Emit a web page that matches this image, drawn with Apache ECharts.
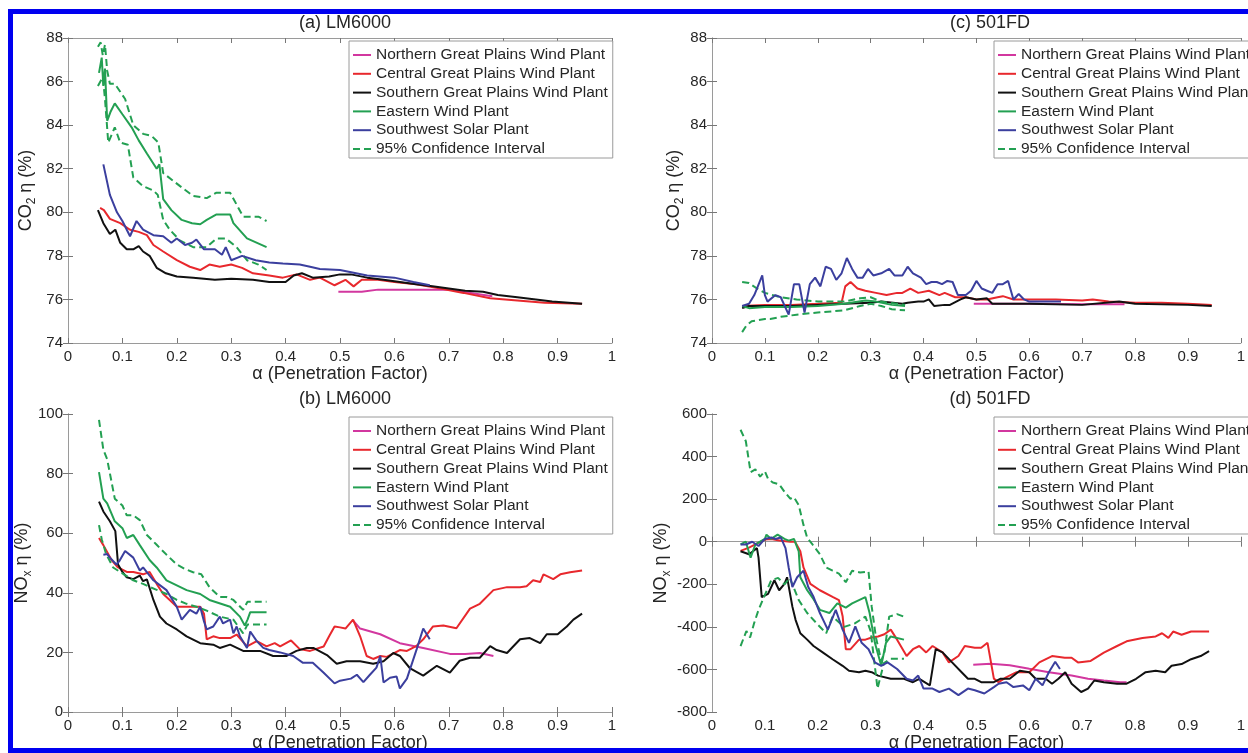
<!DOCTYPE html>
<html>
<head>
<meta charset="utf-8">
<title>CO2 / NOx efficiency vs penetration factor</title>
<script src="https://cdn.jsdelivr.net/npm/echarts@6/dist/echarts.min.js"></script>
<style>
  html, body { margin: 0; padding: 0; background: #fff; }
  #main { width: 1248px; height: 753px; }
</style>
</head>
<body>
<div id="main"></div>
<script>
// series names, in legend order
var names = ['Northern Great Plains Wind Plant', 'Central Great Plains Wind Plant',
  'Southern Great Plains Wind Plant', 'Eastern Wind Plant', 'Southwest Solar Plant',
  '95% Confidence Interval'];
var xTicks = [0, 1, 0.1];

// (a) LM6000, CO2 efficiency
var aNorthern = [[0.497,76.35],[0.54,76.35],[0.57,76.45],[0.61,76.45],[0.66,76.45],[0.7,76.45],[0.74,76.3],[0.78,76.15]];
var aCentral = [[0.059,80.2],[0.066,80.1],[0.077,79.7],[0.096,79.5],[0.114,79.2],[0.13,79.1],[0.145,78.95],[0.157,78.5],[0.175,78.2],[0.2,77.8],[0.224,77.5],[0.243,77.35],[0.26,77.6],[0.279,77.5],[0.3,77.6],[0.32,77.45],[0.34,77.2],[0.37,77.1],[0.395,77.0],[0.42,77.15],[0.445,76.9],[0.463,77.0],[0.49,76.65],[0.51,76.9],[0.525,76.6],[0.54,76.9],[0.57,76.9],[0.6,76.8],[0.64,76.7],[0.685,76.5],[0.727,76.3],[0.776,76.05],[0.826,75.95],[0.876,75.85],[0.945,75.8]];
var aSouthern = [[0.055,80.1],[0.065,79.5],[0.077,79.0],[0.087,79.2],[0.096,78.6],[0.108,78.3],[0.12,78.3],[0.13,78.45],[0.138,78.2],[0.15,78.0],[0.163,77.45],[0.18,77.2],[0.2,77.05],[0.23,77.0],[0.27,76.9],[0.3,76.95],[0.34,76.9],[0.37,76.8],[0.4,76.8],[0.415,77.1],[0.43,77.2],[0.45,77.0],[0.48,77.05],[0.5,77.15],[0.52,77.15],[0.55,77.0],[0.58,76.9],[0.61,76.8],[0.64,76.7],[0.67,76.6],[0.7,76.5],[0.73,76.4],[0.763,76.35],[0.79,76.2],[0.826,76.1],[0.86,76.0],[0.89,75.9],[0.945,75.8]];
var aEastern = [[0.057,86.4],[0.062,87.1],[0.065,85.8],[0.068,86.6],[0.072,84.2],[0.078,84.6],[0.086,85.0],[0.1,84.5],[0.117,83.9],[0.13,83.3],[0.145,82.7],[0.163,82.0],[0.168,82.2],[0.175,80.6],[0.19,80.1],[0.209,79.65],[0.228,79.5],[0.243,79.45],[0.255,79.65],[0.273,79.9],[0.298,79.9],[0.304,79.5],[0.329,78.8],[0.365,78.4]];
var aSolar = [[0.065,82.2],[0.077,80.8],[0.09,80.0],[0.1,79.6],[0.114,78.9],[0.126,79.6],[0.138,79.2],[0.157,78.95],[0.175,78.9],[0.19,78.6],[0.2,78.8],[0.215,78.5],[0.228,78.6],[0.236,78.75],[0.25,78.3],[0.27,78.3],[0.283,78.05],[0.29,78.4],[0.3,77.8],[0.32,78.0],[0.345,77.8],[0.37,77.7],[0.395,77.65],[0.426,77.6],[0.445,77.5],[0.463,77.4],[0.5,77.35],[0.55,77.1],[0.6,77.0],[0.635,76.8],[0.665,76.65]];
var aCiUpper = [[0.055,87.6],[0.06,87.8],[0.064,87.2],[0.068,87.7],[0.072,86.5],[0.077,85.9],[0.086,85.9],[0.105,85.2],[0.12,84.0],[0.138,83.6],[0.154,83.5],[0.166,83.2],[0.175,81.8],[0.206,81.2],[0.23,80.75],[0.255,80.65],[0.273,80.9],[0.298,80.9],[0.322,79.8],[0.35,79.8],[0.365,79.6]];
var aCiLower = [[0.055,85.8],[0.064,86.2],[0.068,85.2],[0.074,83.2],[0.086,83.9],[0.096,83.2],[0.11,83.1],[0.12,81.6],[0.138,81.2],[0.157,81.0],[0.165,80.8],[0.175,79.65],[0.187,79.2],[0.206,78.7],[0.23,78.4],[0.255,78.4],[0.273,78.8],[0.29,78.8],[0.31,78.4],[0.329,77.8],[0.35,77.6],[0.365,77.35]];

// (b) LM6000, NOx efficiency
var bNorthern = [[0.525,30.5],[0.537,28],[0.574,26.1],[0.61,23.1],[0.653,21.5],[0.702,19.5],[0.73,19.5],[0.757,19.8],[0.782,18.8]];
var bCentral = [[0.057,58.4],[0.065,56],[0.08,51],[0.092,48.5],[0.108,47],[0.12,47],[0.138,46.2],[0.15,47],[0.163,43],[0.175,39.6],[0.187,37.6],[0.2,35.3],[0.22,35.3],[0.243,35.3],[0.25,33],[0.255,24.4],[0.267,25.4],[0.279,24.8],[0.298,24.8],[0.31,26],[0.329,22],[0.347,23.8],[0.365,22],[0.38,23.1],[0.39,22],[0.41,24],[0.426,21.1],[0.445,20.5],[0.47,22],[0.48,25.4],[0.49,28.7],[0.5,28.4],[0.51,28],[0.524,31],[0.537,25.4],[0.549,18.8],[0.561,17.8],[0.574,18.8],[0.586,18.5],[0.61,20.8],[0.623,20.5],[0.64,22.1],[0.653,24.4],[0.671,28.7],[0.69,29],[0.714,28.1],[0.739,34.7],[0.757,36.3],[0.782,40.9],[0.807,41.9],[0.831,41.9],[0.843,42.2],[0.855,44.2],[0.868,43.6],[0.874,46.2],[0.892,44.6],[0.905,46.2],[0.923,46.9],[0.945,47.5]];
var bSouthern = [[0.057,70.6],[0.065,67.3],[0.077,64],[0.087,60.7],[0.092,49.5],[0.1,47],[0.108,45.2],[0.12,44.6],[0.132,45.8],[0.138,43.9],[0.145,44.5],[0.157,37.6],[0.169,32],[0.181,29.7],[0.2,27.7],[0.218,25.4],[0.243,23.1],[0.267,22.6],[0.279,21.5],[0.298,22.6],[0.322,20.5],[0.353,20.5],[0.377,18.8],[0.402,18.8],[0.42,20.5],[0.439,21.5],[0.451,21.5],[0.476,19.1],[0.494,16.2],[0.512,17],[0.537,17],[0.561,16.2],[0.58,17],[0.598,19.8],[0.61,18.8],[0.629,14.6],[0.653,12.2],[0.678,15.5],[0.702,13.2],[0.72,17.2],[0.739,18.2],[0.757,18.2],[0.776,22.1],[0.788,20.8],[0.807,19.8],[0.831,24.4],[0.849,24.8],[0.868,23.1],[0.88,26.1],[0.9,26.1],[0.917,28.7],[0.929,31],[0.945,33]];
var bEastern = [[0.057,80.5],[0.065,71.6],[0.072,70],[0.086,64],[0.1,61.7],[0.108,58.4],[0.12,59.4],[0.132,56],[0.15,51],[0.163,48.5],[0.181,44.2],[0.218,40.9],[0.243,39.6],[0.26,37.6],[0.298,35.3],[0.316,32],[0.325,29],[0.33,31],[0.335,33.5],[0.365,33.5]];
var bSolar = [[0.065,52.8],[0.072,53],[0.077,51.8],[0.089,49.5],[0.095,50.8],[0.105,54],[0.12,51.8],[0.132,47.5],[0.138,48.5],[0.157,44.2],[0.181,40.9],[0.2,35.3],[0.209,31],[0.224,34.3],[0.236,33],[0.243,35.3],[0.25,30.4],[0.255,27.7],[0.267,28.7],[0.279,32],[0.285,29.7],[0.298,31],[0.304,26.4],[0.31,28.7],[0.316,25.4],[0.329,21.5],[0.335,27],[0.347,23.8],[0.359,21.5],[0.37,20.8],[0.39,20],[0.414,18.8],[0.432,16.5],[0.45,16.5],[0.47,13.2],[0.49,9.6],[0.5,10.5],[0.52,11.2],[0.531,12.5],[0.543,10],[0.555,12.5],[0.567,14.9],[0.574,18.8],[0.58,9.9],[0.592,11.5],[0.604,11.9],[0.61,7.9],[0.623,11.2],[0.641,21.1],[0.653,28],[0.665,24.4]];
var bCiUpper = [[0.057,98],[0.065,88],[0.072,84.8],[0.086,71.6],[0.1,69.3],[0.108,66],[0.12,66],[0.132,64.4],[0.145,59.4],[0.163,56.1],[0.181,52.8],[0.2,49.5],[0.215,48],[0.23,46.9],[0.245,46.2],[0.26,41.9],[0.279,38.6],[0.291,38.6],[0.304,37.6],[0.322,34.3],[0.33,37],[0.365,37]];
var bCiLower = [[0.057,62.7],[0.062,58],[0.07,53],[0.083,48.5],[0.1,46.5],[0.12,44.2],[0.138,43],[0.15,42],[0.163,41],[0.181,39.6],[0.2,37.6],[0.218,36.3],[0.236,35.3],[0.255,34],[0.279,32],[0.304,31],[0.322,26.4],[0.33,29.4],[0.365,29.4]];

// (c) 501FD, CO2 efficiency
var cNorthern = [[0.495,75.8],[0.53,75.8],[0.6,75.8],[0.7,75.78],[0.78,75.78]];
var cCentral = [[0.057,75.7],[0.1,75.75],[0.15,75.75],[0.2,75.8],[0.245,75.85],[0.252,76.6],[0.262,76.8],[0.275,76.5],[0.29,76.4],[0.31,76.3],[0.33,76.2],[0.35,76.3],[0.36,76.3],[0.375,76.5],[0.39,76.3],[0.41,76.4],[0.43,76.2],[0.44,76.3],[0.46,76.1],[0.48,76.1],[0.5,76.0],[0.52,76.0],[0.54,76.1],[0.55,76.15],[0.57,76.0],[0.6,76.0],[0.65,76.0],[0.7,75.95],[0.72,76.0],[0.75,75.9],[0.8,75.85],[0.85,75.85],[0.9,75.8],[0.945,75.75]];
var cSouthern = [[0.057,75.6],[0.07,75.7],[0.1,75.7],[0.15,75.7],[0.2,75.75],[0.25,75.8],[0.3,75.85],[0.32,75.9],[0.36,75.8],[0.37,75.85],[0.39,75.9],[0.4,75.9],[0.41,76.0],[0.42,75.7],[0.44,75.75],[0.45,75.75],[0.47,76.0],[0.48,76.1],[0.5,76.0],[0.52,76.05],[0.53,75.8],[0.6,75.8],[0.7,75.75],[0.77,75.9],[0.8,75.8],[0.9,75.75],[0.945,75.7]];
var cEastern = [[0.057,75.7],[0.07,75.6],[0.1,75.65],[0.15,75.65],[0.2,75.7],[0.25,75.8],[0.29,75.95],[0.31,75.9],[0.34,75.75],[0.365,75.7]];
var cSolar = [[0.057,75.7],[0.07,75.8],[0.08,76.2],[0.095,77.1],[0.1,76.2],[0.105,75.9],[0.12,76.2],[0.13,76.1],[0.145,75.3],[0.155,76.7],[0.165,76.7],[0.175,75.4],[0.185,76.7],[0.195,77.0],[0.205,76.6],[0.215,77.5],[0.225,77.4],[0.235,76.9],[0.245,77.2],[0.255,77.9],[0.265,77.4],[0.275,77.0],[0.285,77.0],[0.295,77.4],[0.305,77.1],[0.32,77.2],[0.335,77.4],[0.345,77.1],[0.36,77.1],[0.37,77.5],[0.38,77.2],[0.395,77.0],[0.405,76.7],[0.415,76.8],[0.425,76.8],[0.435,76.7],[0.445,76.85],[0.455,76.8],[0.465,76.2],[0.48,76.2],[0.49,76.4],[0.5,76.85],[0.51,76.5],[0.52,76.4],[0.53,76.3],[0.54,76.7],[0.55,76.7],[0.56,76.85],[0.57,76.0],[0.58,76.25],[0.59,76.0],[0.6,75.9],[0.63,75.9],[0.66,75.9]];
var cCiUpper = [[0.057,76.8],[0.07,76.75],[0.085,76.5],[0.1,76.3],[0.13,76.1],[0.16,76.0],[0.2,75.9],[0.25,75.9],[0.28,76.05],[0.3,76.1],[0.32,75.9],[0.35,75.8],[0.365,75.75]];
var cCiLower = [[0.057,74.5],[0.065,74.8],[0.075,75.0],[0.1,75.1],[0.11,75.1],[0.13,75.2],[0.16,75.3],[0.2,75.4],[0.25,75.5],[0.28,75.7],[0.3,75.8],[0.32,75.7],[0.34,75.55],[0.365,75.5]];

// (d) 501FD, NOx efficiency
var dNorthern = [[0.494,-578],[0.527,-573],[0.563,-580],[0.6,-597],[0.637,-613],[0.68,-629],[0.711,-644],[0.741,-652],[0.772,-660],[0.784,-660]];
var dCentral = [[0.054,-43],[0.07,-28],[0.082,-13],[0.1,10],[0.112,13],[0.13,5],[0.148,0],[0.157,0],[0.167,-45],[0.173,-121],[0.186,-198],[0.204,-228],[0.228,-259],[0.24,-274],[0.247,-350],[0.253,-505],[0.262,-505],[0.278,-460],[0.29,-460],[0.302,-450],[0.314,-445],[0.326,-435],[0.338,-413],[0.35,-460],[0.368,-537],[0.38,-505],[0.392,-490],[0.405,-520],[0.417,-490],[0.436,-520],[0.448,-567],[0.466,-537],[0.478,-490],[0.497,-498],[0.509,-498],[0.521,-475],[0.533,-643],[0.542,-660],[0.557,-636],[0.576,-613],[0.6,-613],[0.619,-567],[0.643,-537],[0.667,-545],[0.68,-545],[0.692,-567],[0.716,-560],[0.741,-521],[0.766,-490],[0.784,-468],[0.814,-452],[0.839,-445],[0.851,-430],[0.863,-452],[0.872,-422],[0.888,-437],[0.906,-422],[0.924,-422],[0.94,-422]];
var dSouthern = [[0.054,-45],[0.07,-59],[0.08,-40],[0.085,-30],[0.088,-75],[0.094,-260],[0.106,-245],[0.118,-181],[0.127,-228],[0.137,-198],[0.142,-167],[0.152,-305],[0.158,-367],[0.167,-430],[0.18,-460],[0.192,-490],[0.21,-521],[0.228,-552],[0.247,-583],[0.259,-606],[0.278,-613],[0.29,-606],[0.302,-613],[0.314,-629],[0.338,-644],[0.363,-644],[0.38,-660],[0.392,-644],[0.412,-675],[0.423,-505],[0.436,-520],[0.454,-567],[0.472,-613],[0.484,-644],[0.497,-644],[0.509,-660],[0.533,-660],[0.545,-644],[0.563,-644],[0.582,-606],[0.6,-613],[0.612,-644],[0.631,-644],[0.643,-667],[0.655,-644],[0.668,-613],[0.68,-667],[0.698,-706],[0.711,-690],[0.723,-652],[0.741,-660],[0.766,-667],[0.784,-667],[0.802,-644],[0.82,-613],[0.839,-606],[0.857,-613],[0.869,-583],[0.888,-575],[0.906,-552],[0.924,-537],[0.94,-514]];
var dEastern = [[0.054,-13],[0.064,0],[0.073,-75],[0.082,-13],[0.1,13],[0.103,33],[0.112,13],[0.124,33],[0.137,13],[0.145,5],[0.155,13],[0.164,-45],[0.167,-167],[0.18,-228],[0.192,-270],[0.204,-320],[0.222,-335],[0.237,-290],[0.253,-310],[0.265,-290],[0.29,-260],[0.298,-335],[0.308,-475],[0.32,-583],[0.329,-475],[0.338,-445],[0.363,-460]];
var dSolar = [[0.054,-13],[0.064,-13],[0.076,0],[0.088,-20],[0.1,13],[0.112,20],[0.12,13],[0.13,20],[0.139,-30],[0.145,-121],[0.152,-213],[0.161,-167],[0.173,-136],[0.182,-213],[0.192,-259],[0.204,-335],[0.219,-413],[0.234,-320],[0.247,-413],[0.259,-475],[0.271,-398],[0.283,-475],[0.296,-505],[0.308,-567],[0.32,-583],[0.332,-567],[0.35,-598],[0.368,-644],[0.38,-652],[0.39,-629],[0.4,-690],[0.417,-690],[0.43,-706],[0.448,-690],[0.466,-721],[0.484,-690],[0.497,-698],[0.515,-713],[0.533,-683],[0.542,-667],[0.557,-660],[0.57,-683],[0.588,-675],[0.6,-698],[0.612,-644],[0.625,-675],[0.637,-613],[0.649,-564],[0.658,-598]];
var dCiUpper = [[0.054,526],[0.064,472],[0.073,327],[0.082,340],[0.091,306],[0.1,331],[0.106,295],[0.115,278],[0.127,270],[0.137,235],[0.148,202],[0.155,209],[0.164,172],[0.173,79],[0.18,18],[0.19,-13],[0.204,-59],[0.216,-121],[0.228,-136],[0.24,-150],[0.253,-190],[0.265,-136],[0.28,-145],[0.296,-140],[0.302,-305],[0.31,-450],[0.32,-560],[0.326,-520],[0.335,-352],[0.35,-340],[0.363,-352]];
var dCiLower = [[0.054,-490],[0.065,-420],[0.072,-450],[0.08,-380],[0.088,-320],[0.1,-250],[0.112,-181],[0.125,-170],[0.137,-200],[0.147,-170],[0.164,-274],[0.18,-335],[0.198,-384],[0.216,-430],[0.228,-352],[0.25,-400],[0.27,-384],[0.29,-352],[0.3,-420],[0.313,-690],[0.318,-640],[0.325,-570],[0.338,-550],[0.363,-550]];

// y ranges [min, max, interval]
var yRangeCO2 = [74, 88, 2];
var yRangeNOx_LM = [0, 100, 20];
var yRangeNOx_FD = [-800, 600, 200];

var colors = ['#d2379f', '#e8282d', '#111111', '#23a052', '#3b3f9e', '#23a052'];
var font = 'Liberation Sans, Arial, sans-serif';
var axisGray = '#9a9a9a';
var textCol = '#262626';

var myChart = echarts.init(document.getElementById('main'));

var panels = [
  {title: '(a) LM6000', grid: {left: 68, top: 38, width: 544, height: 305}, y: yRangeCO2, yName: '{n|CO}{s|2}{n| η (%)}', nameGap: 30,
    sets: [aNorthern, aCentral, aSouthern, aEastern, aSolar, aCiUpper, aCiLower]},
  {title: '(b) LM6000', grid: {left: 68, top: 414, width: 544, height: 303}, y: yRangeNOx_LM, yName: '{n|NO}{s|x}{n| η (%)}', nameGap: 30,
    sets: [bNorthern, bCentral, bSouthern, bEastern, bSolar, bCiUpper, bCiLower]},
  {title: '(c) 501FD', grid: {left: 712, top: 38, width: 546, height: 305}, y: yRangeCO2, yName: '{n|CO}{s|2}{n| η (%)}', nameGap: 26,
    sets: [cNorthern, cCentral, cSouthern, cEastern, cSolar, cCiUpper, cCiLower]},
  {title: '(d) 501FD', grid: {left: 712, top: 414, width: 546, height: 303}, y: yRangeNOx_FD, yName: '{n|NO}{s|x}{n| η (%)}', nameGap: 38,
    sets: [dNorthern, dCentral, dSouthern, dEastern, dSolar, dCiUpper, dCiLower]}
];

var grids = [], xAxes = [], yAxes = [], series = [], titles = [], legends = [];

panels.forEach(function (p, g) {
  grids.push(p.grid);
  var tick = {show: true, inside: true, length: 5, lineStyle: {color: '#777'}};
  var line = {show: true, lineStyle: {color: axisGray, width: 1}};
  xAxes.push({
    type: 'value', gridIndex: g, min: xTicks[0], max: xTicks[1], interval: xTicks[2],
    axisLine: line, axisTick: tick, splitLine: {show: false},
    axisLabel: {fontSize: 15, color: textCol, fontFamily: font, margin: 6},
    name: 'α (Penetration Factor)', nameLocation: 'middle', nameGap: 22,
    nameTextStyle: {fontSize: 18, color: textCol, fontFamily: font}
  });
  xAxes.push({
    type: 'value', gridIndex: g, position: 'top', min: xTicks[0], max: xTicks[1], interval: xTicks[2],
    axisLine: line, axisTick: tick, axisLabel: {show: false}, splitLine: {show: false}
  });
  yAxes.push({
    type: 'value', gridIndex: g, min: p.y[0], max: p.y[1], interval: p.y[2],
    axisLine: line, axisTick: tick, splitLine: {show: false},
    axisLabel: {fontSize: 15, color: textCol, fontFamily: font, margin: 5},
    name: p.yName, nameLocation: 'middle', nameRotate: 90, nameGap: p.nameGap,
    nameTextStyle: {
      color: textCol, fontFamily: font,
      rich: {
        n: {fontSize: 18, color: textCol, fontFamily: font, lineHeight: 24, verticalAlign: 'middle'},
        s: {fontSize: 12, color: textCol, fontFamily: font, lineHeight: 12, verticalAlign: 'bottom'}
      }
    }
  });
  yAxes.push({
    type: 'value', gridIndex: g, position: 'right', min: p.y[0], max: p.y[1], interval: p.y[2],
    axisLine: line, axisTick: tick, axisLabel: {show: false}, splitLine: {show: false}
  });

  p.sets.forEach(function (d, k) {
    var ci = k >= 5;
    series.push({
      name: ci ? names[5] : names[k], type: 'line', xAxisIndex: 2 * g, yAxisIndex: 2 * g,
      data: d, symbol: 'none', showSymbol: false, silent: true, animation: false,
      z: k === 4 ? 4 : 3,
      itemStyle: {color: colors[ci ? 5 : k]},
      lineStyle: {color: colors[ci ? 5 : k], width: 2, type: ci ? [7, 4] : 'solid'}
    });
  });

  var cx = p.grid.left + p.grid.width / 2;
  if (g >= 2) cx = 712 + 273;
  titles.push({
    text: p.title, left: cx, top: p.grid.top - 29, textAlign: 'center',
    textStyle: {fontSize: 18, fontWeight: 'normal', color: textCol, fontFamily: font}
  });

  legends.push({
    data: names, orient: 'vertical', left: g < 2 ? 349 : 994, top: p.grid.top + 3,
    backgroundColor: '#fff', borderColor: axisGray, borderWidth: 1, borderRadius: 0,
    padding: [6, 5, 1, 3], itemWidth: 18, itemHeight: 12, itemGap: 2.8,
    selectedMode: false,
    itemStyle: {opacity: 0},
    textStyle: {fontSize: 15.5, color: textCol, fontFamily: font, lineHeight: 16}
  });
});

var option = {
  backgroundColor: '#fff',
  animation: false,
  title: titles,
  legend: legends,
  grid: grids,
  xAxis: xAxes,
  yAxis: yAxes,
  series: series,
  graphic: [{
    type: 'rect', z: 100, silent: true,
    shape: {x: 10.5, y: 11.5, width: 1300, height: 739},
    style: {fill: 'none', stroke: '#0000f0', lineWidth: 5}
  }]
};
myChart.setOption(option);
</script>
</body>
</html>
